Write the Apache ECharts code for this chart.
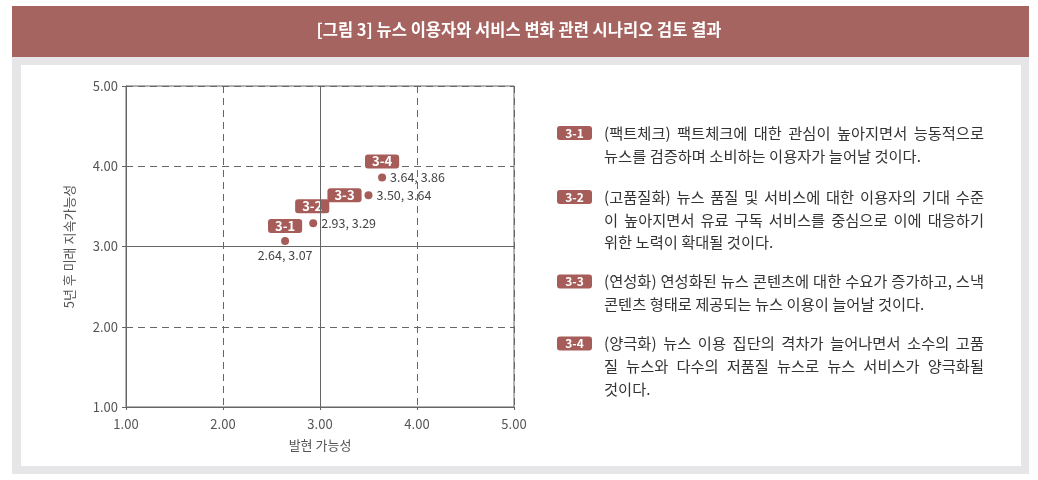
<!DOCTYPE html>
<html>
<head>
<meta charset="utf-8">
<script src="https://cdn.jsdelivr.net/npm/echarts@6/dist/echarts.min.js"></script>
<style>
html, body { margin: 0; padding: 0; background: #fff; }
#frame { position: absolute; left: 12px; top: 6px; width: 1017px; height: 468px; background: #e6e6e8; }
#head { position: absolute; left: 12px; top: 6px; width: 1017px; height: 51px; background: #a66461; }
#panel { position: absolute; left: 21px; top: 65px; width: 1000px; height: 401px; background: #fff; }
#chart { position: absolute; left: 0; top: 0; width: 1038px; height: 480px; }
</style>
</head>
<body>
<div id="frame"></div>
<div id="head"></div>
<div id="panel"></div>
<div id="chart"></div>
<script>
'use strict';

var codes = ['3-1', '3-2', '3-3', '3-4'];
var xValues = [2.64, 2.93, 3.50, 3.64];   // 발현 가능성
var yValues = [3.07, 3.29, 3.64, 3.86];   // 5년 후 미래 지속가능성
var axisMin = 1, axisMax = 5, axisStep = 1;

var descriptions = [
	['(팩트체크) 팩트체크에 대한 관심이 높아지면서 능동적으로',
	 '뉴스를 검증하며 소비하는 이용자가 늘어날 것이다.'],
	['(고품질화) 뉴스 품질 및 서비스에 대한 이용자의 기대 수준',
	 '이 높아지면서 유료 구독 서비스를 중심으로 이에 대응하기',
	 '위한 노력이 확대될 것이다.'],
	['(연성화) 연성화된 뉴스 콘텐츠에 대한 수요가 증가하고, 스낵',
	 '콘텐츠 형태로 제공되는 뉴스 이용이 늘어날 것이다.'],
	['(양극화) 뉴스 이용 집단의 격차가 늘어나면서 소수의 고품',
	 '질 뉴스와 다수의 저품질 뉴스로 뉴스 서비스가 양극화될',
	 '것이다.']
];

var FONT = "'Noto Sans CJK KR', 'Noto Sans', sans-serif";
var RED = '#a65c59';
var GRID = '#666';

// 라벨 위치 (스타일)
var badgeOffsets = [[0, -15], [-1, -17], [-24, 0], [0, -16]];
var valuePos = ['bottom', 'right', 'right', 'right'];
var textTops = [133, 197, 281.5, 343.5];
var lineH = 22.7;
var textLeft = 604, textWidth = 380, textSize = 15.3;

var points = [];
var badges = [];
for (var i = 0; i < codes.length; i++) {
	points.push({
		value: [xValues[i], yValues[i]],
		label: { position: valuePos[i] }
	});
	badges.push({
		name: codes[i],
		value: [xValues[i], yValues[i]],
		label: { offset: badgeOffsets[i] }
	});
}

// 오른쪽 설명 영역 (양쪽 정렬)
var ctx = document.createElement('canvas').getContext('2d');
ctx.font = textSize + 'px ' + FONT;

var elements = [];
for (var i = 0; i < codes.length; i++) {
	var cy = textTops[i];
	elements.push({
		type: 'rect',
		shape: { x: 557, y: cy - 7, width: 35, height: 14, r: 3 },
		style: { fill: RED }
	});
	elements.push({
		type: 'text',
		x: 574.5, y: cy,
		style: {
			text: codes[i], fill: '#fff', font: 'bold 12px ' + FONT,
			align: 'center', verticalAlign: 'middle'
		}
	});
	var lines = descriptions[i];
	for (var k = 0; k < lines.length; k++) {
		var ly = cy + k * lineH;
		var words = lines[k].split(' ');
		if (k == lines.length - 1 || words.length < 2) {
			elements.push({
				type: 'text', x: textLeft, y: ly,
				style: { text: lines[k], fill: '#333', fontSize: textSize, fontFamily: FONT, align: 'left', verticalAlign: 'middle' }
			});
			continue;
		}
		var total = 0;
		var ws = [];
		for (var w = 0; w < words.length; w++) {
			ws.push(ctx.measureText(words[w]).width);
			total += ws[w];
		}
		var gap = (textWidth - total) / (words.length - 1);
		var x = textLeft;
		for (var w = 0; w < words.length; w++) {
			elements.push({
				type: 'text', x: x, y: ly,
				style: { text: words[w], fill: '#333', fontSize: textSize, fontFamily: FONT, align: 'left', verticalAlign: 'middle' }
			});
			x += ws[w] + gap;
		}
	}
}

var myChart = echarts.init(document.getElementById('chart'));

myChart.setOption({
	animation: false,
	textStyle: { fontFamily: FONT },
	title: {
		text: '[그림 3] 뉴스 이용자와 서비스 변화 관련 시나리오 검토 결과',
		left: 'center',
		top: 21,
		padding: 0,
		textStyle: { color: '#fff', fontSize: 16.5, fontWeight: 'bold', fontFamily: FONT }
	},
	grid: {
		left: 126, right: 524, top: 86, bottom: 73,
		show: true, borderColor: GRID, borderWidth: 1, backgroundColor: 'transparent'
	},
	xAxis: {
		type: 'value', min: axisMin, max: axisMax, interval: axisStep,
		name: '발현 가능성', nameLocation: 'middle', nameGap: 32,
		nameTextStyle: { color: '#555', fontSize: 13 },
		axisLine: { show: true, lineStyle: { color: GRID } },
		axisTick: { show: true, length: 3, lineStyle: { color: GRID } },
		axisLabel: { color: '#555', fontSize: 13, margin: 11, formatter: function (v) { return v.toFixed(2); } },
		splitLine: { show: true, lineStyle: { color: GRID, type: [7, 5], width: 1 } }
	},
	yAxis: {
		type: 'value', min: axisMin, max: axisMax, interval: axisStep,
		name: '5년 후 미래 지속가능성', nameLocation: 'middle', nameGap: 50, nameRotate: 90,
		nameTextStyle: { color: '#555', fontSize: 13 },
		axisLine: { show: true, lineStyle: { color: GRID } },
		axisTick: { show: true, length: 4, lineStyle: { color: GRID } },
		axisLabel: { color: '#555', fontSize: 13, margin: 8, formatter: function (v) { return v.toFixed(2); } },
		splitLine: { show: true, lineStyle: { color: GRID, type: [7, 5], width: 1 } }
	},
	graphic: { elements: elements },
	series: [{
		name: 'point',
		type: 'scatter',
		symbolSize: 8,
		itemStyle: { color: RED, opacity: 1 },
		label: {
			show: true, distance: 4, color: '#444', fontSize: 12.5,
			formatter: function (p) { return p.value[0].toFixed(2) + ', ' + p.value[1].toFixed(2); }
		},
		markLine: {
			silent: true,
			symbol: ['none', 'none'],
			label: { show: false },
			lineStyle: { type: 'solid', color: GRID, width: 1 },
			data: [{ xAxis: 3 }, { yAxis: 3 }]
		},
		data: points
	}, {
		name: 'badge',
		type: 'scatter',
		symbolSize: 0.1,
		itemStyle: { color: 'transparent', opacity: 1 },
		z: 3,
		label: {
			show: true, position: 'inside', formatter: '{b}',
			color: '#fff', fontSize: 13, fontWeight: 'bold',
			backgroundColor: RED, borderRadius: 3, padding: [1, 7, 0, 7]
		},
		data: badges
	}]
});
</script>
</body>
</html>
